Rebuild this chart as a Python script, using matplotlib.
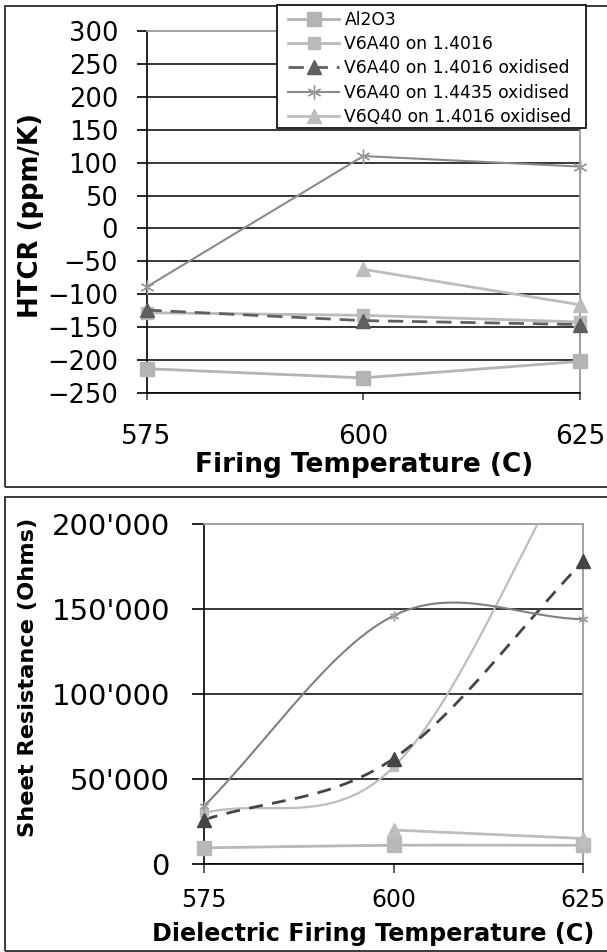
import numpy as np
import matplotlib
matplotlib.use('Agg')
import matplotlib.pyplot as plt
from matplotlib.patches import Rectangle
from matplotlib.ticker import FuncFormatter, FixedLocator
from matplotlib.transforms import Bbox, TransformedBbox

plt.rcParams['font.family'] = ['DejaVu Sans']

# ---------------- data ----------------
temps = [575, 600, 625]
series_names = ['Al2O3', 'V6A40 on 1.4016', 'V6A40 on 1.4016 oxidised',
                'V6A40 on 1.4435 oxidised', 'V6Q40 on 1.4016 oxidised']

# HTCR (ppm/K)
htcr_al2o3 = [-213, -227, -202]
htcr_v6a40 = [-128, -132, -142]
htcr_v6a40_ox = [-124, -140, -146]
htcr_v6a40_4435_ox = [-89, 110, 94]
htcr_v6q40_ox = [np.nan, -62, -116]

# Sheet resistance (Ohms)
rs_al2o3 = [9500, 11000, 11000]
rs_v6a40 = [30000, 57000, 250000]
rs_v6a40_ox = [26000, 62000, 178000]
rs_v6a40_4435_ox = [34000, 146000, 144000]
rs_v6q40_ox = [np.nan, 20000, 15000]

htcr_ticks = list(range(-250, 301, 50))
rs_ticks = [0, 50000, 100000, 150000, 200000]

# ---------------- styles ----------------
STAR = (6, 2, 0)
styles = [
    dict(color='#b3b3b3', marker='s', ms=10, lw=2.0, ls='-', mec='#b3b3b3'),
    dict(color='#bababa', marker='s', ms=8, lw=2.0, ls='-', mec='#bababa'),
    dict(color='#606060', marker='^', ms=10, lw=2.0, ls=(0, (5.5, 3.2)), mec='#5c5c5c'),
    dict(color='#8a8a8a', marker=STAR, ms=10, lw=1.5, ls='-', mec='#9a9a9a', mew=1.0),
    dict(color='#bdbdbd', marker='^', ms=10, lw=2.0, ls='-', mec='#bdbdbd'),
]

W, H = 607, 952
fig = plt.figure(figsize=(W / 100, H / 100), dpi=100)


def fx(px):
    return px / W


def fy(py):
    return 1 - py / H


# panel frames
for (y0, y1) in [(6, 487), (497, 951)]:
    fig.patches.append(Rectangle((fx(5), fy(y1)), fx(W + 20), (y1 - y0) / H,
                                 transform=fig.transFigure, fill=False,
                                 edgecolor='#3a3a3a', lw=1.4, zorder=0))


def style_axes(ax, ticks, ylen, xlen, ypad, xpad, yfs, xfs):
    ax.set_xlim(575, 625)
    ax.set_ylim(ticks[0], ticks[-1])
    ax.yaxis.set_major_locator(FixedLocator(ticks))
    ax.xaxis.set_major_locator(FixedLocator(temps))
    for s in ['left', 'bottom']:
        ax.spines[s].set_color('black')
        ax.spines[s].set_linewidth(1.2)
    for s in ['top', 'right']:
        ax.spines[s].set_color('#9a9a9a')
        ax.spines[s].set_linewidth(1.3)
    ax.tick_params(axis='y', direction='out', length=ylen, width=1.2,
                   pad=ypad, labelsize=yfs, colors='black')
    ax.tick_params(axis='x', direction='out', length=xlen, width=1.2,
                   pad=xpad, labelsize=xfs, color='#444444', labelcolor='black')
    ax.grid(axis='y', color='black', lw=1.1)
    ax.set_axisbelow(True)
    gl = ax.yaxis.get_gridlines()
    gl[-1].set_visible(False)


def clip(ax, artist):
    bb = TransformedBbox(Bbox([[-0.05, 0], [1.05, 1]]), ax.transAxes)
    artist.set_clip_box(bb)


# ---------------- top chart ----------------
ax1 = fig.add_axes([fx(146.5), fy(393), (580 - 146.5) / W, (393 - 31) / H])
style_axes(ax1, htcr_ticks, 7.5, 5.0, 13, 17, 18.5, 19)

top_data = [htcr_al2o3, htcr_v6a40, htcr_v6a40_ox, htcr_v6a40_4435_ox, htcr_v6q40_ox]
handles = []
for name, d, st in zip(series_names, top_data, styles):
    ln, = ax1.plot(temps, d, label=name, zorder=3, **st)
    clip(ax1, ln)
    handles.append(ln)

# legend box (frame drawn separately to match the original's padding)
fig.patches.append(Rectangle((fx(277), fy(128)), (586 - 277) / W, (128 - 5) / H,
                             transform=fig.transFigure, facecolor='white',
                             edgecolor='black', lw=1.2, zorder=9))
leg = fig.legend(handles, series_names, loc='upper left',
                 bbox_to_anchor=(fx(283), fy(6)), bbox_transform=fig.transFigure,
                 frameon=False, borderpad=0.3, handlelength=3.0, handletextpad=0.3,
                 labelspacing=0.36, fontsize=12.3, borderaxespad=0)
leg.set_zorder(10)

fig.text(fx(31), fy(216), 'HTCR (ppm/K)', rotation=90, ha='center', va='center',
         fontsize=18.7, fontweight='bold')
fig.text(fx(364), fy(472), 'Firing Temperature (C)', ha='center', va='baseline',
         fontsize=19, fontweight='bold')

# ---------------- bottom chart ----------------
ax2 = fig.add_axes([fx(204), fy(864), (583 - 204) / W, (864 - 524) / H])
style_axes(ax2, rs_ticks, 8.6, 6.5, 16, 11, 21, 17)
ax2.yaxis.set_major_formatter(FuncFormatter(lambda v, p: f"{int(v):,}".replace(',', "'")))


def bezier_smooth(x, y, n=80):
    x = np.asarray(x, float)
    y = np.asarray(y, float)
    m = ~np.isnan(y)
    x, y = x[m], y[m]
    if len(x) < 3:
        return x, y
    P = np.column_stack([x, y])
    out = []
    for i in range(len(P) - 1):
        p0, p3 = P[i], P[i + 1]
        c1 = p0 + (p3 - p0) / 3 if i == 0 else p0 + (P[i + 1] - P[i - 1]) / 6
        c2 = p3 - (p3 - p0) / 3 if i + 1 == len(P) - 1 else p3 - (P[i + 2] - P[i]) / 6
        t = np.linspace(0, 1, n)[:, None]
        seg = (1 - t) ** 3 * p0 + 3 * (1 - t) ** 2 * t * c1 + 3 * (1 - t) * t ** 2 * c2 + t ** 3 * p3
        out.append(seg if i == 0 else seg[1:])
    s = np.vstack(out)
    return s[:, 0], s[:, 1]


bot_data = [rs_al2o3, rs_v6a40, rs_v6a40_ox, rs_v6a40_4435_ox, rs_v6q40_ox]
bot_styles = [
    dict(color='#b8b8b8', marker='s', ms=10, lw=2.0, ls='-'),
    dict(color='#bdbdbd', marker='s', ms=6, lw=1.6, ls='-'),
    dict(color='#454545', marker='^', ms=10, lw=2.0, ls=(0, (5.0, 3.4))),
    dict(color='#808080', marker=STAR, ms=7, lw=1.5, ls='-', mew=1.0),
    dict(color='#bdbdbd', marker='^', ms=10, lw=2.0, ls='-'),
]
for d, st in zip(bot_data, bot_styles):
    sx, sy = bezier_smooth(temps, d)
    ln, = ax2.plot(sx, sy, color=st['color'], lw=st['lw'], ls=st['ls'], zorder=3)
    clip(ax2, ln)
    mk, = ax2.plot(temps, d, ls='none', marker=st['marker'], ms=st['ms'],
                   color=st['color'], mec=st['color'] if st['marker'] != STAR else '#a0a0a0',
                   mew=st.get('mew', 1.0), zorder=4)
    clip(ax2, mk)

fig.text(fx(28), fy(677), 'Sheet Resistance (Ohms)', rotation=90, ha='center', va='center',
         fontsize=16.2, fontweight='bold')
fig.text(fx(373), fy(941), 'Dielectric Firing Temperature (C)', ha='center', va='baseline',
         fontsize=17.2, fontweight='bold')

fig.savefig('out.png', dpi=100)
